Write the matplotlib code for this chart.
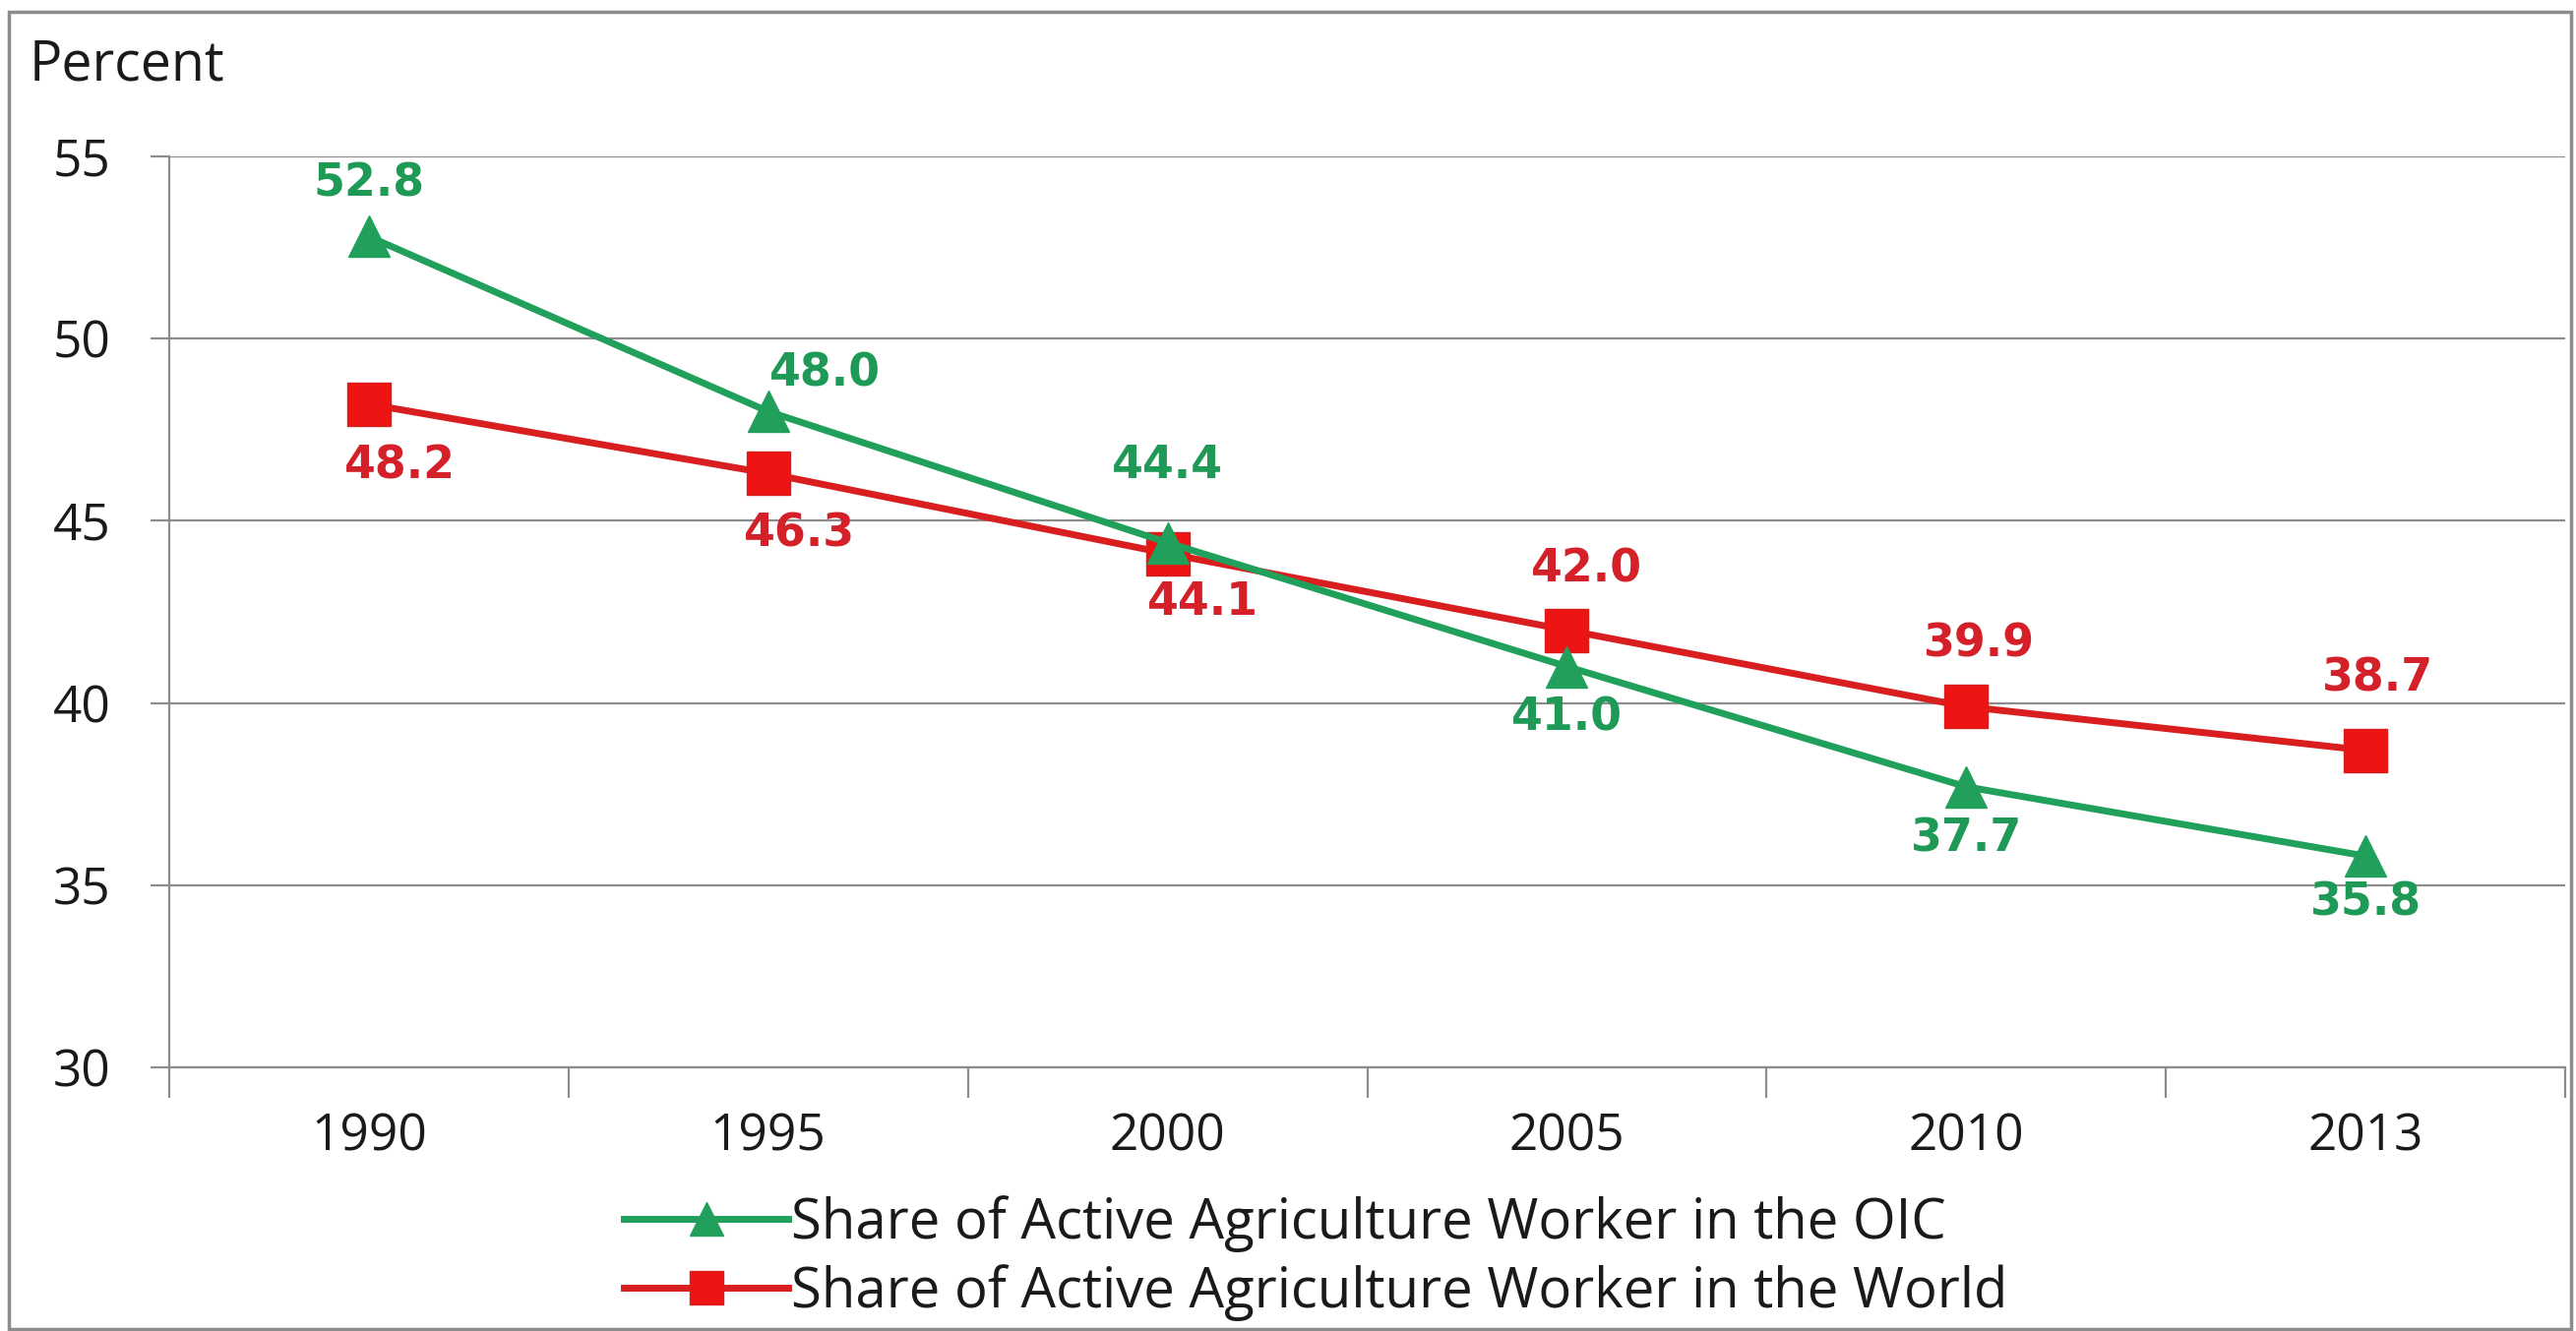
import matplotlib
matplotlib.use("Agg")
import matplotlib.pyplot as plt
from matplotlib.patches import Rectangle
from matplotlib.ticker import FixedLocator

plt.rcParams['font.family'] = ['Open Sans', 'DejaVu Sans']

years = ["1990", "1995", "2000", "2005", "2010", "2013"]
oic = [52.8, 48.0, 44.4, 41.0, 37.7, 35.8]
world = [48.2, 46.3, 44.1, 42.0, 39.9, 38.7]
oic_label = "Share of Active Agriculture Worker in the OIC"
world_label = "Share of Active Agriculture Worker in the World"
yticks = [30, 35, 40, 45, 50, 55]

GREEN = '#20A05A'
GREEN_TXT = '#1E9A56'
RED_LINE = '#D81E1E'
RED_MK = '#EE1414'
RED_TXT = '#D42028'
GRAY = '#8C8C8C'

W, H = 2618, 1353
fig = plt.figure(figsize=(W / 100, H / 100), dpi=100)
L, R, T, B = 172, 2607, 159, 1085
ax = fig.add_axes([L / W, 1 - B / H, (R - L) / W, (B - T) / H])

x = list(range(len(years)))
ax.plot(x, oic, color=GREEN, lw=5, marker='^', ms=30, mfc=GREEN, mec=GREEN,
        label=oic_label, zorder=4)
ax.plot(x, world, color=RED_LINE, lw=5, marker='s', ms=31, mfc=RED_MK, mec=RED_LINE,
        mew=1, label=world_label, zorder=3)

ax.set_xlim(-0.5, len(years) - 0.5)
ax.set_ylim(30, 55)
ax.set_yticks(yticks)
ax.set_xticks(x)
ax.set_xticklabels(years)
ax.xaxis.set_minor_locator(FixedLocator([i - 0.5 for i in range(len(years) + 1)]))

ax.grid(axis='y', color=GRAY, lw=1.6)
ax.set_axisbelow(True)
for s in ['top', 'right']:
    ax.spines[s].set_visible(False)
for s in ['left', 'bottom']:
    ax.spines[s].set_color(GRAY)
    ax.spines[s].set_linewidth(1.6)

ax.tick_params(axis='y', length=14, width=1.6, color=GRAY, pad=29,
               labelsize=37, labelcolor='#1a1a1a')
ax.tick_params(axis='x', which='major', length=0, pad=33, labelsize=37,
               labelcolor='#1a1a1a')
ax.tick_params(axis='x', which='minor', length=22, width=1.6, color=GRAY)

oic_off = [(0, 53), (58, 38), (0, 78), (0, -52), (0, -53), (0, -48)]
world_off = [(32, -63), (32, -62), (36, -50), (20, 62), (13, 63), (12, 73)]
for xi, v, o in zip(x, oic, oic_off):
    ax.annotate(f"{v:.1f}", (xi, v), xytext=o, textcoords='offset pixels',
                ha='center', va='center', fontsize=33, fontweight='bold',
                family='DejaVu Sans', color=GREEN_TXT, zorder=6)
for xi, v, o in zip(x, world, world_off):
    ax.annotate(f"{v:.1f}", (xi, v), xytext=o, textcoords='offset pixels',
                ha='center', va='center', fontsize=33, fontweight='bold',
                family='DejaVu Sans', color=RED_TXT, zorder=6)

fig.text(30 / W, 1 - 67 / H, "Percent", ha='left', va='center', fontsize=40,
         color='#1a1a1a')

leg = fig.legend(loc='center left', bbox_to_anchor=(634 / W, 1 - 1279 / H),
                 frameon=False, fontsize=40.5, handlelength=2.97, handletextpad=0.05,
                 labelspacing=0.22, markerscale=0.8, borderpad=0, borderaxespad=0)
for t in leg.get_texts():
    t.set_color('#1a1a1a')

fig.add_artist(Rectangle((9 / W, 2 / H), (2613 - 9) / W, (1341 - 2) / H,
                         transform=fig.transFigure, fill=False,
                         edgecolor=GRAY, lw=2.5))

fig.savefig("out.png", dpi=100, facecolor='white')
